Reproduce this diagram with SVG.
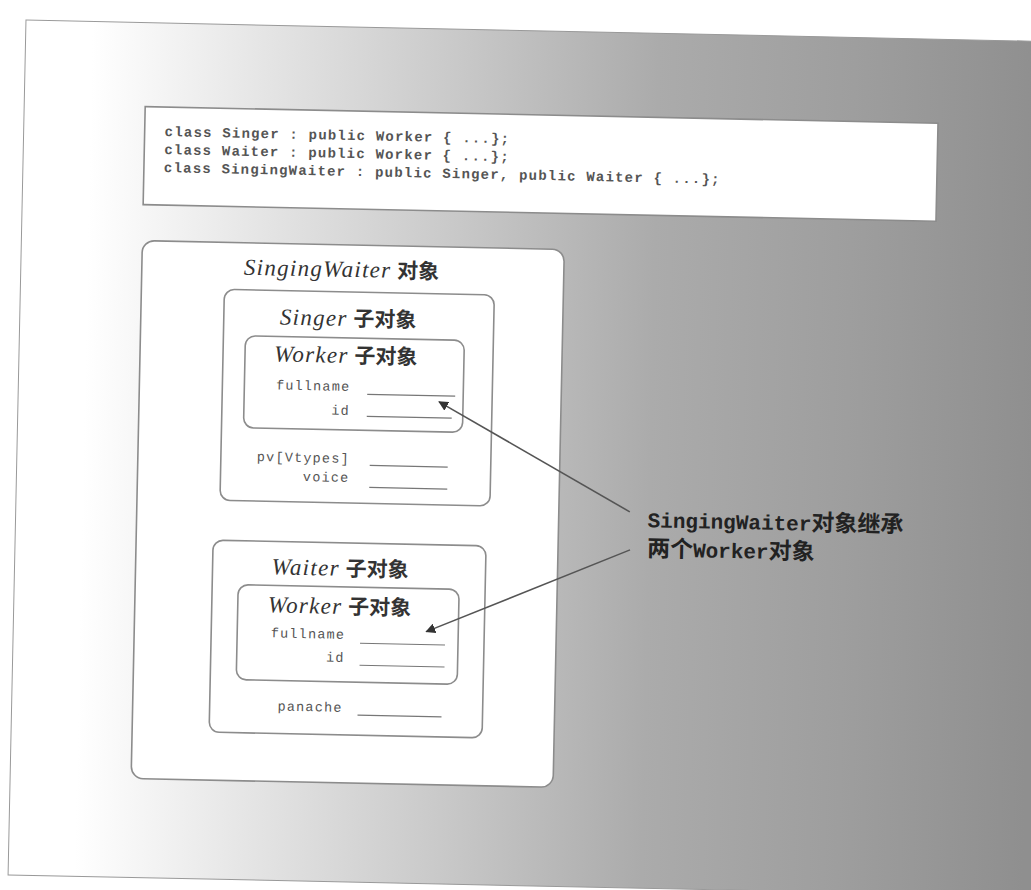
<svg xmlns="http://www.w3.org/2000/svg" width="1031" height="890" viewBox="0 0 1031 890">
<defs>
<linearGradient id="bg" x1="0" y1="0" x2="1031" y2="0" gradientUnits="userSpaceOnUse">
<stop offset="0.08" stop-color="#ffffff"/>
<stop offset="0.24" stop-color="#e6e6e6"/>
<stop offset="0.44" stop-color="#c8c8c8"/>
<stop offset="0.63" stop-color="#ababab"/>
<stop offset="0.82" stop-color="#9e9e9e"/>
<stop offset="1" stop-color="#8f8f8f"/>
</linearGradient>
<marker id="ah" viewBox="0 0 10 10" refX="9" refY="5" markerWidth="10" markerHeight="10" markerUnits="userSpaceOnUse" orient="auto">
<path d="M0,0 L10,5 L0,10 z" fill="#333"/>
</marker>
<style>
.box{fill:#fff;stroke:#8c8c8c;stroke-width:1.6}
.code{font-family:"Liberation Mono","DejaVu Sans Mono",monospace;font-size:14px;fill:#555;font-weight:bold;letter-spacing:1.2px}
.title{font-family:"Liberation Serif","Noto Sans CJK SC",serif;font-size:23px;fill:#333}
.it{font-style:italic;letter-spacing:1.3px}
.cjk{font-family:"Noto Sans CJK SC",sans-serif;font-weight:bold;font-size:21px}
.fld{font-family:"Liberation Mono",monospace;font-size:13.5px;fill:#555;letter-spacing:1.2px;text-anchor:end}
.ln{stroke:#777;stroke-width:1.2}
.conn{stroke:#555;stroke-width:1.6;fill:none;marker-end:url(#ah)}
.lbl{font-family:"Liberation Mono","Noto Sans CJK SC",monospace;font-size:21px;font-weight:bold;fill:#222}
.lc{font-family:"Noto Sans CJK SC",sans-serif;font-size:23px}
</style>
</defs>
<g transform="rotate(1.2 350 500)">
<rect x="16" y="27" width="1100" height="855" fill="url(#bg)" stroke="#999" stroke-width="1"/>
<g id="code">
<rect x="137" y="111" width="793" height="98" fill="#fff" stroke="#8c8c8c" stroke-width="1.6"/>
<text class="code" x="157" y="140">class Singer : public Worker { ...};</text>
<text class="code" x="157" y="158">class Waiter : public Worker { ...};</text>
<text class="code" x="157" y="176">class SingingWaiter : public Singer, public Waiter { ...};</text>
</g>
<g id="singingwaiter">
<rect class="box" x="137" y="245" width="422" height="538" rx="12"/>
<text class="title" x="239" y="277"><tspan class="it">SingingWaiter</tspan> <tspan class="cjk">对象</tspan></text>
</g>
<g id="singer">
<rect class="box" x="220" y="292" width="270" height="211" rx="10"/>
<text class="title" x="276" y="326"><tspan class="it">Singer</tspan> <tspan class="cjk">子对象</tspan></text>
<text class="fld" x="349" y="463">pv[Vtypes]</text>
<line class="ln" x1="369" y1="465" x2="447" y2="465"/>
<text class="fld" x="349" y="482">voice</text>
<line class="ln" x1="369" y1="487" x2="447" y2="487"/>
</g>
<g id="worker1">
<rect class="box" x="242" y="338" width="219" height="92" rx="10"/>
<text class="title" x="271" y="363"><tspan class="it">Worker</tspan> <tspan class="cjk">子对象</tspan></text>
<text class="fld" x="348" y="391">fullname</text>
<line class="ln" x1="365" y1="394" x2="453" y2="394"/>
<text class="fld" x="348" y="415">id</text>
<line class="ln" x1="365" y1="416" x2="450" y2="416"/>
</g>
<g id="waiter">
<rect class="box" x="214" y="543" width="273" height="192" rx="10"/>
<text class="title" x="273" y="576"><tspan class="it">Waiter</tspan> <tspan class="cjk">子对象</tspan></text>
<text class="fld" x="347" y="712">panache</text>
<line class="ln" x1="362" y1="715" x2="446" y2="715"/>
</g>
<g id="worker2">
<rect class="box" x="240" y="587" width="221" height="95" rx="10"/>
<text class="title" x="270" y="614"><tspan class="it">Worker</tspan> <tspan class="cjk">子对象</tspan></text>
<text class="fld" x="348" y="639">fullname</text>
<line class="ln" x1="363" y1="643" x2="448" y2="643"/>
<text class="fld" x="348" y="662">id</text>
<line class="ln" x1="363" y1="665" x2="448" y2="665"/>
</g>
<g id="connectors">
<line class="conn" x1="630" y1="506" x2="437" y2="400"/>
<line class="conn" x1="631" y1="544" x2="429" y2="630"/>
</g>
<g id="label">
<text class="lbl" x="648" y="521">SingingWaiter<tspan class="lc">对象继承</tspan></text>
<text class="lbl" x="648" y="550"><tspan class="lc">两个</tspan>Worker<tspan class="lc">对象</tspan></text>
</g>
</g>
</svg>
